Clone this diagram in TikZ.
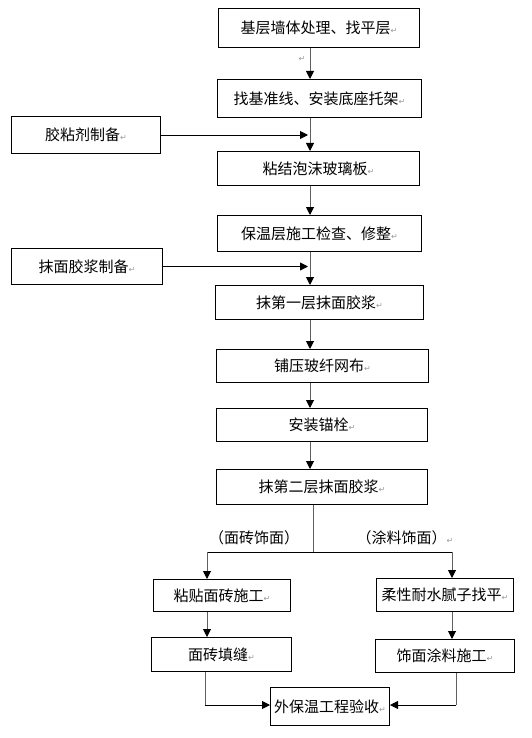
\documentclass[tikz,border=0pt]{standalone}
\usepackage{fontspec}
\setmainfont{Noto Sans CJK SC}
\newfontfamily\symfont{DejaVu Sans}
\usepackage{xcolor}
\usepackage{tikz}
\usetikzlibrary{arrows.meta, positioning}

\newcommand\retmark{{\color{gray!80}\symfont\fontsize{8}{8}\selectfont ↵}}

\begin{document}
\begin{tikzpicture}[
  x=1pt, y=-1pt,
  font=\fontsize{15}{17}\selectfont,
  box/.style   = {draw, line width=1pt, anchor=north west, inner sep=0pt,
                  text centered},
  vline/.style = {line width=1pt, gray!75!black},
  hline/.style = {line width=0.9pt, black},
  tip/.style   = {-{Triangle[length=8pt, width=8pt, black]}},
  note/.style  = {inner sep=0pt}
]
\useasboundingbox (0,0) rectangle (532,738);

% main column
\node[box, minimum width=201pt, minimum height=39pt] (base)   at (218,8)   {基层墙体处理、找平层\retmark};
\node[box, minimum width=204pt, minimum height=38pt] (line)   at (217,79)  {找基准线、安装底座托架\retmark};
\node[box, minimum width=202pt, minimum height=34pt] (glue)   at (217,151) {粘结泡沫玻璃板\retmark};
\node[box, minimum width=204pt, minimum height=36pt] (check)  at (217,215) {保温层施工检查、修整\retmark};
\node[box, minimum width=208pt, minimum height=34pt] (coat1)  at (215,285) {抹第一层抹面胶浆\retmark};
\node[box, minimum width=212pt, minimum height=33pt] (mesh)   at (216,349) {铺压玻纤网布\retmark};
\node[box, minimum width=211pt, minimum height=33pt] (anchor) at (216,408) {安装锚栓\retmark};
\node[box, minimum width=211pt, minimum height=35pt] (coat2)  at (216,469) {抹第二层抹面胶浆\retmark};

% side preparations
\node[box, minimum width=149pt, minimum height=37pt] (prepA) at (11,116) {胶粘剂制备\retmark};
\node[box, minimum width=151pt, minimum height=36pt] (prepB) at (11,248) {抹面胶浆制备\retmark};

% two finishes
\node[note] (tileL)  at (254,538) {（面砖饰面）};
\node[note] (paintL) at (405,538) {（涂料饰面）\retmark};
\node[box, minimum width=137pt, minimum height=32pt] (tile)   at (153,579) {粘贴面砖施工\retmark};
\node[box, minimum width=140pt, minimum height=34pt] (joint)  at (151,637) {面砖填缝\retmark};
\node[box, minimum width=137pt, minimum height=33pt] (putty)  at (376,578) {柔性耐水腻子找平\retmark};
\node[box, minimum width=139pt, minimum height=33pt] (paint)  at (375,639) {饰面涂料施工\retmark};
\node[box, minimum width=119pt, minimum height=38pt] (accept) at (270,687) {外保温工程验收\retmark};

\node[note] (stray) at (302,59) {\retmark};

\coordinate (trunk) at (310,0);
\coordinate (split) at (313,552);
\coordinate (tx)    at (207,0);
\coordinate (px)    at (452,0);
\coordinate (jx)    at (205,705);
\coordinate (qx)    at (456,705);

\draw[vline, tip] (base.south -| trunk)   -- (line.north -| trunk);
\draw[vline, tip] (line.south -| trunk)   -- (glue.north -| trunk);
\draw[vline, tip] (glue.south -| trunk)   -- (check.north -| trunk);
\draw[vline, tip] (check.south -| trunk)  -- (coat1.north -| trunk);
\draw[vline, tip] (coat1.south -| trunk)  -- (mesh.north -| trunk);
\draw[vline, tip] (mesh.south -| trunk)   -- (anchor.north -| trunk);
\draw[vline, tip] (anchor.south -| trunk) -- (coat2.north -| trunk);

\draw[hline, tip, shorten >=2pt] (prepA.east) -- (prepA.east -| trunk);
\draw[hline, tip, shorten >=2pt] (prepB.east) -- (prepB.east -| trunk);

\draw[vline] (coat2.south -| split) -- (split);
\draw[hline] (split -| tx) -- (split -| px);
\draw[vline, tip] (split -| tx) -- (tile.north -| tx);
\draw[vline, tip] (split -| px) -- (putty.north -| px);
\draw[vline, tip] (tile.south -| tx)  -- (joint.north -| tx);
\draw[vline, tip] (putty.south -| px) -- (paint.north -| px);

\draw[vline] (joint.south -| jx) -- (jx);
\draw[hline, tip] (jx) -- (accept.west |- jx);
\draw[vline] (paint.south -| qx) -- (qx);
\draw[hline, tip] (qx) -- (accept.east |- qx);
\end{tikzpicture}
\end{document}
